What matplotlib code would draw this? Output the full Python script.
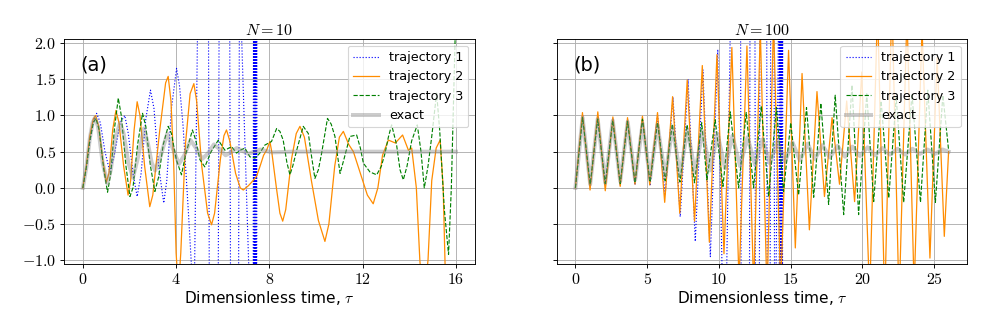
import numpy as np
import matplotlib
matplotlib.use("Agg")
import matplotlib.pyplot as plt
from matplotlib.ticker import FuncFormatter

plt.rcParams["mathtext.fontset"] = "cm"
plt.rcParams["font.family"] = "serif"
plt.rcParams["font.serif"] = ["cmr10"]
plt.rcParams["axes.formatter.use_mathtext"] = True
SANS = ["DejaVu Sans"]

# ---- panel (a): N = 10 ----
# trajectory 1 (blows up after t~4.5; off-scale swings kept at +/-3)
a1_t = [0, 0.15, 0.3, 0.45, 0.59, 0.75, 0.95, 1.16, 1.35, 1.6, 1.8, 1.95,
        2.15, 2.33, 2.5, 2.7, 2.9, 3.05, 3.25, 3.47, 3.6, 3.8, 4.02, 4.15,
        4.3, 4.52, 4.68,
        4.72, 4.95, 5.38, 5.44, 5.79, 5.85, 6.29, 6.35, 6.66, 6.72,
        7.30, 7.32, 7.34, 7.35, 7.36, 7.38, 7.39, 7.40, 7.42, 7.43, 7.45, 7.47]
a1_v = [0, 0.28, 0.65, 0.92, 1.03, 0.9, 0.5, 0.22, 0.45, 0.9, 1.0, 0.75,
        0.2, -0.12, 0.2, 0.95, 1.35, 1.1, 0.3, -0.21, 0.1, 1.1, 1.65, 1.4,
        0.85, -0.3, -1.2,
        -3, 3, 3, -3, -3, 3, 3, -3, -3, 3,
        -3, 3, -3, 3, -3, 3, -3, 3, -3, 3, -3, 3]
# trajectory 2
a2_t = [0, 0.15, 0.3, 0.45, 0.55, 0.68, 0.85, 1.01, 1.12, 1.28, 1.42, 1.55,
        1.75, 1.94, 2.05, 2.2, 2.33, 2.45, 2.65, 2.87, 3.0, 3.3, 3.55, 3.66,
        3.78, 3.9, 4.0, 4.1, 4.2, 4.4, 4.6, 4.76, 4.88, 5.1, 5.35, 5.52,
        5.65, 5.9, 6.05, 6.16, 6.3, 6.55, 6.75, 6.88, 7.1, 7.3, 7.45, 7.6,
        7.75, 7.88, 8.02, 8.1, 8.3, 8.45, 8.57, 8.7, 8.95, 9.15, 9.31, 9.5,
        9.8, 10.1, 10.38, 10.55, 10.8, 11.0, 11.17, 11.4, 11.6, 11.9, 12.2,
        12.45, 12.65, 12.85, 13.1, 13.4, 13.71, 13.96, 14.1, 14.3, 14.45,
        14.6, 14.8, 14.96, 15.15, 15.32, 15.45, 15.55, 15.7]
a2_v = [0, 0.3, 0.72, 0.95, 1.0, 0.85, 0.4, 0.08, 0.2, 0.8, 1.07, 0.9,
        0.3, -0.1, 0.1, 0.8, 1.19, 1.0, 0.3, -0.26, -0.1, 0.8, 1.45, 1.54,
        1.2, 0.3, -0.9, -1.4, -0.9, 0.6, 1.3, 1.44, 1.2, 0.3, -0.35, -0.51,
        -0.35, 0.4, 0.72, 0.8, 0.65, 0.2, 0.0, -0.03, 0.03, 0.1, 0.16, 0.3,
        0.45, 0.52, 0.64, 0.5, 0.0, -0.35, -0.46, -0.3, 0.4, 0.75, 0.85, 0.7,
        0.1, -0.45, -0.74, -0.5, 0.3, 0.7, 0.78, 0.6, 0.5, 0.2, -0.1,
        -0.22, 0.0, 0.45, 0.66, 0.62, 0.73, 0.52, 0.55, 0.0, -1.0,
        -1.6, -1.0, 0.1, 0.55, 0.66, 0.0, -1.3, -1.5]
# trajectory 3
a3_t = [0, 0.15, 0.3, 0.45, 0.56, 0.7, 0.9, 1.06, 1.2, 1.35, 1.52, 1.65,
        1.85, 2.02, 2.15, 2.35, 2.56, 2.7, 2.9, 3.09, 3.25, 3.45, 3.66, 3.8,
        4.0, 4.23, 4.4, 4.7, 4.85, 5.02, 5.23, 5.5, 5.81, 6.09, 6.38, 6.59,
        6.75, 6.95, 7.16, 7.38, 7.59, 7.8, 8.09, 8.31, 8.45, 8.59, 8.75,
        8.88, 9.0, 9.17, 9.45, 9.67, 9.8, 9.95, 10.1, 10.24, 10.49, 10.65,
        10.81, 10.92, 11.03, 11.2, 11.45, 11.74, 11.9, 12.03, 12.31, 12.6,
        12.8, 12.96, 13.1, 13.24, 13.45, 13.6, 13.74, 13.9, 14.1, 14.34,
        14.5, 14.64, 14.8, 14.96, 15.17, 15.3, 15.5, 15.68, 15.8, 15.96]
a3_v = [0, 0.28, 0.65, 0.9, 0.96, 0.8, 0.25, -0.06, 0.2, 0.8, 1.24, 1.0,
        0.3, -0.12, 0.0, 0.6, 1.03, 0.85, 0.3, -0.05, 0.15, 0.6, 0.85, 0.75,
        0.4, 0.18, 0.45, 0.8, 0.65, 0.39, 0.29, 0.5, 0.66, 0.52, 0.57, 0.48,
        0.52, 0.55, 0.43, 0.41, 0.48, 0.59, 0.64, 0.82, 0.78, 0.66, 0.35,
        0.18, 0.3, 0.52, 0.85, 0.75, 0.45, 0.13, 0.25, 0.48, 0.96, 0.88,
        0.71, 0.45, 0.2, 0.4, 0.71, 0.73, 0.55, 0.34, 0.22, 0.18,
        0.3, 0.48, 0.7, 0.87, 0.6, 0.25, 0.11, 0.3, 0.65, 0.87,
        0.5, 0.0, 0.3, 0.71, 1.31, 0.8, -0.3, -0.92, 0.0, 2.04]
# exact
a0_t = [0, 0.15, 0.3, 0.42, 0.52, 0.65, 0.85, 1.05, 1.2, 1.4, 1.6, 1.75,
        1.95, 2.15, 2.35, 2.62, 2.8, 2.95, 3.1, 3.3, 3.62, 3.85, 4.12, 4.35,
        4.62, 4.85, 5.12, 5.35, 5.62, 5.85, 6.12, 6.35, 6.6, 6.85, 7.1,
        7.6, 8.1, 9.0, 16.0]
a0_v = [0, 0.28, 0.68, 0.9, 0.97, 0.85, 0.35, 0.06, 0.25, 0.7, 0.9, 0.75,
        0.35, 0.14, 0.4, 0.82, 0.6, 0.35, 0.24, 0.4, 0.75, 0.55, 0.33, 0.45,
        0.66, 0.55, 0.4, 0.47, 0.6, 0.54, 0.45, 0.49, 0.55, 0.51, 0.47,
        0.53, 0.49, 0.5, 0.5]

# ---- panel (b): N = 100 ----
b1_t = [0, 0.5, 1.03, 1.56, 2.08, 2.6, 3.12, 3.63, 4.15, 4.67, 5.2, 5.72,
        6.25, 6.8, 7.3, 7.85, 8.35, 8.88, 9.4, 9.92, 10.4,
        10.85, 11.05, 11.5, 11.56, 12.11, 12.17, 12.5, 12.56, 12.8, 12.86,
        13.32, 13.38, 13.55, 13.61, 13.83, 13.89,
        14.18, 14.21, 14.24, 14.26, 14.28, 14.3, 14.32, 14.34, 14.36,
        14.38, 14.4, 14.42, 14.45]
b1_v = [0, 1.0, 0.02, 0.98, 0.03, 0.96, 0.04, 0.95, 0.04, 0.97, 0.03, 1.0,
        -0.1, 1.25, -0.4, 1.5, -0.74, 1.63, -0.95, 1.91, -3,
        3, 3, 3, -3, -3, 3, 3, -3, -3, 3,
        3, -3, -3, 3, 3, -3,
        3, -3, 3, -3, 3, -3, 3, -3, 3,
        -3, 3, -3, 3]
b2_t = [0, 0.49, 1.02, 1.56, 2.08, 2.61, 3.12, 3.63, 4.15, 4.67, 5.18, 5.72,
        6.22, 6.77, 7.27, 7.79, 8.3, 8.84, 9.33, 9.86, 10.35, 10.9, 11.4,
        11.95, 12.42, 12.88, 13.35, 13.8, 14.3, 14.85, 15.32, 15.79, 16.3,
        16.83, 17.35, 17.88, 18.4, 18.9, 19.45, 19.95, 20.5, 21.05, 21.55,
        22.05, 22.55, 23.1, 23.6, 24.15, 24.7, 25.2, 25.7, 26.0]
b2_v = [0, 1.04, -0.03, 1.05, -0.04, 0.98, 0.02, 0.97, 0.05, 0.99, 0.04, 1.04,
        -0.2, 1.26, -0.35, 1.49, -0.46, 1.69, -0.75, 1.84, -0.91, 1.94, -1.3,
        1.96, -1.4, 2.2, -1.5, 2.3, -1.4, 1.9, -0.83, 1.58, -0.58,
        1.33, -0.12, 0.97, 0.05, 1.2, -0.19, 1.6, -1.5, 2.5, -1.6,
        2.6, -1.6, 2.4, -1.4, 2.2, -0.97, 1.8, -0.67, 0.5]
b3_t = [0, 0.5, 1.03, 1.55, 2.08, 2.6, 3.12, 3.63, 4.15, 4.67, 5.2, 5.72,
        6.25, 6.75, 7.28, 7.78, 8.3, 8.8, 9.16, 9.74, 10.28, 10.79, 11.37,
        11.9, 12.41, 12.95, 13.46, 14.0, 14.5, 15.0, 15.55, 16.1, 16.6,
        17.1, 17.64, 18.1, 18.69, 19.27, 19.73, 20.3, 20.78, 21.3, 21.83,
        22.35, 22.87, 23.45, 24.04, 24.55, 25.08, 25.6, 26.0]
b3_v = [0, 0.97, 0.05, 0.95, 0.06, 0.93, 0.06, 0.92, 0.07, 0.95, 0.08, 0.9,
        0.1, 0.88, 0.08, 0.87, 0.07, 0.9, 0.11, 0.94, 0.02, 1.05, 0.0,
        1.04, 0.0, 1.13, -0.12, 1.11, -0.05, 0.9, -0.1, 1.11, -0.13,
        1.17, -0.23, 1.28, -0.37, 1.42, -0.37, 1.3, -0.19, 1.2, -0.14,
        1.25, -0.2, 1.3, -0.2, 1.35, -0.2, 1.28, 0.52]
b0_t = [0, 0.5, 1.03, 1.55, 2.08, 2.6, 3.12, 3.64, 4.16, 4.68, 5.2, 5.72,
        6.25, 6.77, 7.29, 7.81, 8.33, 8.86, 9.38, 9.9, 10.42, 10.94, 11.47,
        11.99, 12.51, 13.03, 13.55, 14.08, 14.6, 15.12, 15.64, 16.17, 16.69,
        17.21, 17.73, 18.26, 18.78, 19.3, 19.82, 20.35, 20.87, 21.39, 21.91,
        22.44, 22.96, 23.48, 24.0, 24.53, 25.05, 25.57, 26.0]
b0_v = [0, 0.97, 0.05, 0.95, 0.07, 0.93, 0.09, 0.91, 0.11, 0.89, 0.13, 0.87,
        0.15, 0.84, 0.18, 0.81, 0.21, 0.78, 0.24, 0.75, 0.27, 0.72, 0.3,
        0.7, 0.32, 0.67, 0.34, 0.65, 0.36, 0.63, 0.38, 0.61, 0.4,
        0.59, 0.42, 0.58, 0.43, 0.57, 0.44, 0.56, 0.45, 0.55, 0.46,
        0.54, 0.46, 0.54, 0.47, 0.53, 0.47, 0.53, 0.5]

panels = [
    ("(a)", r"$N = 10$", [0, 4, 8, 12, 16],
     (a1_t, a1_v), (a2_t, a2_v), (a3_t, a3_v), (a0_t, a0_v)),
    ("(b)", r"$N = 100$", [0, 5, 10, 15, 20, 25],
     (b1_t, b1_v), (b2_t, b2_v), (b3_t, b3_v), (b0_t, b0_v)),
]

fig, axes = plt.subplots(1, 2, figsize=(12, 4), dpi=82.25, sharey=True)
fig.subplots_adjust(left=0.065, right=0.98, bottom=0.198, top=0.88, wspace=0.2)

for ax, (tag, title, xt, s1, s2, s3, s0) in zip(axes, panels):
    ax.plot(*s1, ':', color='blue', lw=1.0, label='trajectory 1')
    ax.plot(*s2, '-', color='darkorange', lw=1.1, label='trajectory 2')
    ax.plot(*s3, '--', color='green', lw=1.0, label='trajectory 3')
    ax.plot(*s0, '-', color='gray', lw=3.5, alpha=0.4, label='exact')
    tmax = s0[0][-1]
    ax.set_xlim(-0.05 * tmax, 1.05 * tmax)
    ax.set_ylim(-1.05, 2.05)
    ax.set_xticks(xt)
    ax.set_yticks([-1.0, -0.5, 0.0, 0.5, 1.0, 1.5, 2.0])
    ax.xaxis.set_major_formatter(FuncFormatter(lambda v, p: f"${v:g}$"))
    ax.yaxis.set_major_formatter(FuncFormatter(lambda v, p: f"${v:.1f}$"))
    ax.tick_params(labelsize=14)
    ax.grid(True)
    ax.set_title(title, fontsize=14, pad=4)
    ax.set_xlabel(r"Dimensionless time, $\tau$", fontsize=13.5, labelpad=2,
                  family=SANS)
    ax.text(0.04, 0.93, tag, transform=ax.transAxes, fontsize=17,
            va='top', ha='left', family=SANS)
    ax.legend(loc='upper right', prop={'family': SANS, 'size': 11.2})

plt.savefig('out.png', dpi=82.25)
